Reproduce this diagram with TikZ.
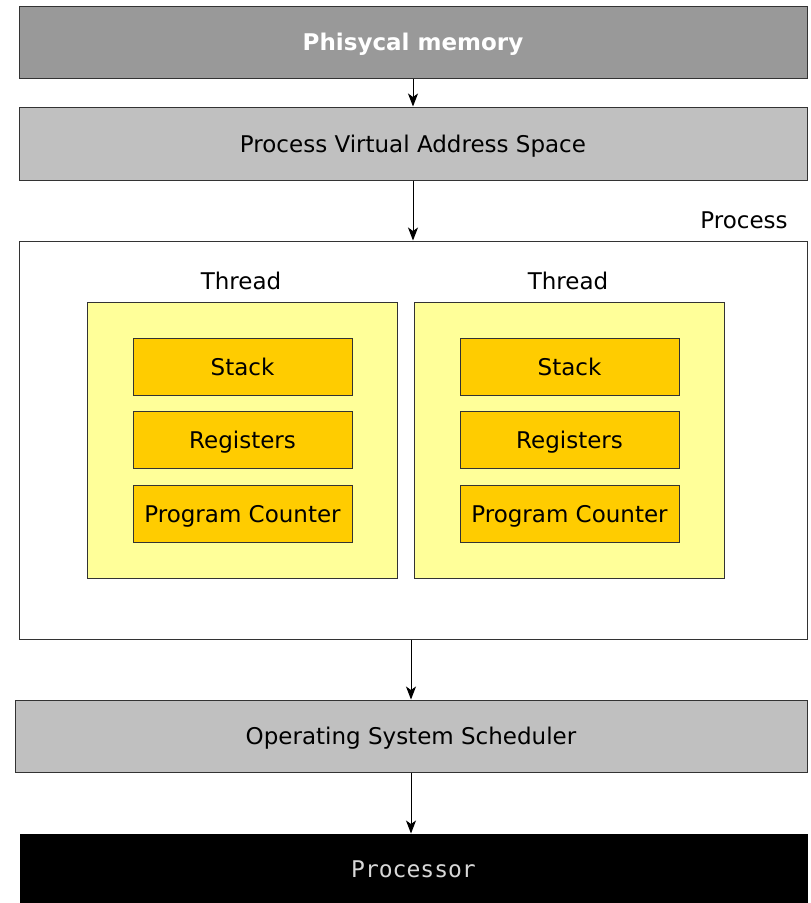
\documentclass[tikz,border=0pt]{standalone}
\usepackage{fontspec}
\setmainfont{DejaVu Sans}
\setmonofont{DejaVu Sans Mono}
\usepackage{tikz}
\usetikzlibrary{positioning, arrows.meta, shapes}
\definecolor{memgray}{HTML}{999999}
\definecolor{lightgray}{HTML}{C0C0C0}
\definecolor{threadyellow}{HTML}{FFFF99}
\definecolor{partorange}{HTML}{FFCC00}
\definecolor{edgegray}{HTML}{333333}
\definecolor{cpugray}{HTML}{D8D8D8}
\tikzstyle{arrow} = [line width=1pt,->,>={Stealth[length=13pt,width=10pt,inset=3.5pt]}]
\tikzstyle{layer} = [rectangle, draw=edgegray, line width=1pt, inner sep=0pt,
text height=17pt, text depth=0pt, minimum width=788pt, minimum height=72pt]
\tikzstyle{tblock} = [rectangle, draw=edgegray, line width=1pt, fill=threadyellow,
minimum width=310pt, minimum height=276pt]
\tikzstyle{pblock} = [rectangle, draw=edgegray, line width=1pt, fill=partorange, inner sep=0pt,
text height=17pt, text depth=0pt, minimum width=219pt, minimum height=57pt]

\begin{document}
\begin{tikzpicture}[x=1pt, y=-1pt]
    \tikzstyle{every node}=[font=\fontsize{23pt}{27pt}\selectfont]
    \useasboundingbox (0,0) rectangle (811,903);
	\node (Memory) [layer, fill=memgray, text=white, font=\fontsize{23pt}{27pt}\selectfont\bfseries] at (413,42) {Phisycal memory};
	\node (Space) [layer, fill=lightgray, minimum height=73pt] at (413,143.5) {Process Virtual Address Space};
	\node (Process) [layer, fill=white, minimum height=398pt] at (413,440) {};
	\node (ProcLabel) at (744,220) {Process};

    % the two threads
	\node (ThreadA) [tblock] at (242,440) {};
	\node (ThreadB) [tblock] at (569,440) {};
	\node (LabelA) at (241,281) {Thread};
	\node (LabelB) at (568,281) {Thread};
	\node (StackA) [pblock] at (242.5,366.5) {Stack};
	\node (RegsA) [pblock] at (242.5,439.5) {Registers};
	\node (CountA) [pblock] at (242.5,513.5) {Program Counter};
	\node (StackB) [pblock] at (569.5,366.5) {Stack};
	\node (RegsB) [pblock] at (569.5,439.5) {Registers};
	\node (CountB) [pblock] at (569.5,513.5) {Program Counter};

	\node (Scheduler) [layer, fill=lightgray, minimum width=792pt] at (411,736) {Operating System Scheduler};
	\node (Cpu) [layer, fill=black, draw=black, text=cpugray, minimum width=787pt, minimum height=69pt,
    font=\fontsize{23pt}{27pt}\selectfont\ttfamily] at (413.5,868.5) {Processor};

	\draw [arrow] (Memory) -- (Space);
	\draw [arrow] (Space) -- (Process);
	\draw [arrow] (Process.south -| Scheduler.north) -- (Scheduler);
	\draw [arrow] (Scheduler) -- (Scheduler.south |- Cpu.north);
\end{tikzpicture}
\end{document}
